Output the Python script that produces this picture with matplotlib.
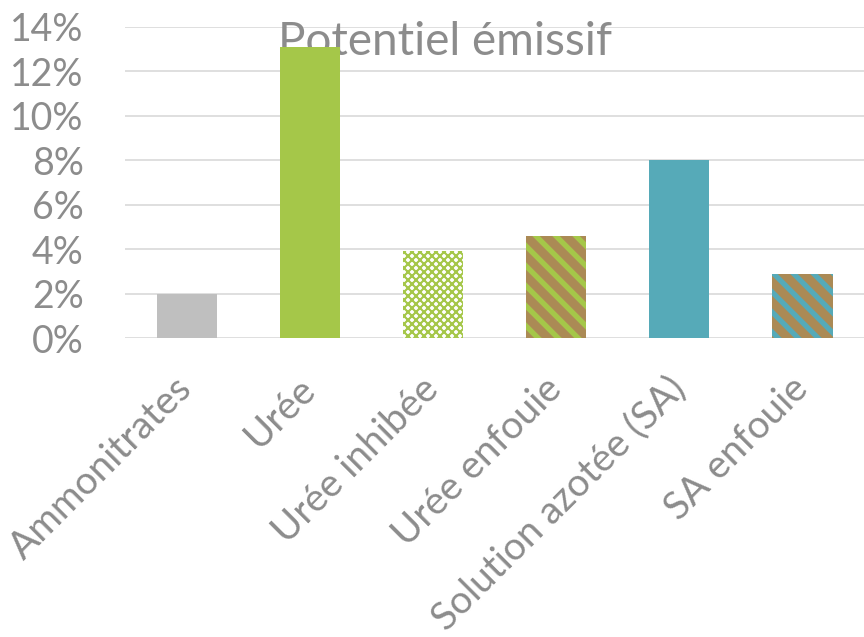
import matplotlib
matplotlib.use('Agg')
import matplotlib.pyplot as plt
from matplotlib.ticker import PercentFormatter

categories = ['Ammonitrates', 'Urée', 'Urée inhibée', 'Urée enfouie',
              'Solution azotée (SA)', 'SA enfouie']
values = [0.020, 0.131, 0.039, 0.046, 0.080, 0.029]

# couleurs / motifs des barres
faces = ['#BFBFBF', '#A5C749', 'white', '#AB8A55', '#56AAB8', '#AB8A55']
hatch_colors = ['none', 'none', '#A5C749', '#A5C749', 'none', '#56AAB8']
hatches = [None, None, 'xxxxx', '\\\\', None, '\\\\']
hatch_widths = [1, 1, 1.25, 3.2, 1, 3.2]

plt.rcParams['font.family'] = ['Lato', 'DejaVu Sans']
grey = '#8C8C8C'

# dpi 120 : motifs hachurés plus espacés (proche de l'original)
DPI = 120
fig = plt.figure(figsize=(864 / DPI, 637 / DPI), dpi=DPI)
ax = fig.add_axes([0.145, 0.469, 0.855, 0.489])

x = range(len(categories))
for i in x:
    with plt.rc_context({'hatch.linewidth': hatch_widths[i]}):
        bar = ax.bar(i, values[i], width=0.49, color=faces[i], zorder=3,
                     linewidth=0)
        if hatches[i]:
            bar[0].set_hatch(hatches[i])
            bar[0].set_edgecolor(hatch_colors[i])
            if hasattr(bar[0], 'set_hatch_linewidth'):
                bar[0].set_hatch_linewidth(hatch_widths[i])

ax.set_xlim(-0.5, 5.5)
ax.set_ylim(0, 0.14)
ax.set_yticks([i / 100 for i in range(0, 15, 2)])
ax.yaxis.set_major_formatter(PercentFormatter(1.0, decimals=0))
ax.grid(axis='y', color='#D9D9D9', linewidth=1.0, zorder=0)
for s in ax.spines.values():
    s.set_visible(False)
ax.tick_params(axis='y', length=0, labelsize=22.5, labelcolor=grey, pad=25)
ax.set_xticks(list(x))
ax.set_xticklabels(categories, rotation=45, ha='right',
                   rotation_mode='anchor', va='center')
ax.tick_params(axis='x', length=0, labelsize=23.2, labelcolor=grey, pad=27)

# titre dessiné sous les barres (la barre Urée le recouvre)
ax.text(0.5156, 0.9137, 'Potentiel émissif', ha='center', va='baseline',
        fontsize=27.5, color=grey, zorder=2, transform=fig.transFigure,
        clip_on=False)

fig.savefig('out.png', dpi=DPI)
